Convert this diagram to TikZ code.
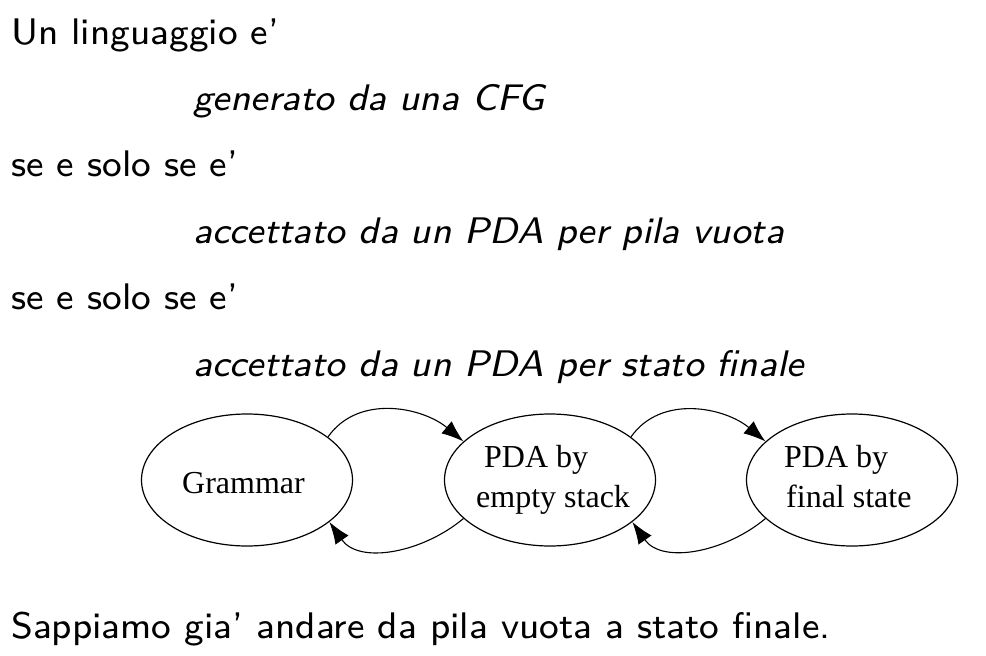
\documentclass[tikz,border=0pt]{standalone}
\usepackage{fontspec}
\newfontfamily\nodefont{Liberation Serif}
\newfontfamily\slidefont{lmsans8-regular.otf}[ItalicFont=lmsans8-oblique.otf,Ligatures=TeX]
\usetikzlibrary{shapes.geometric,arrows.meta}
\begin{document}
\begin{tikzpicture}[x=1pt,y=-1pt,
  txt/.style={anchor=base west,inner sep=0pt,font=\slidefont\fontsize{37}{40}\selectfont},
  itxt/.style={txt,font=\slidefont\itshape\fontsize{37}{40}\selectfont},
  state/.style={draw,ellipse,line width=1.2pt,minimum width=211pt,minimum height=132pt,inner sep=0pt},
  lbl/.style={anchor=base west,inner sep=0pt,font=\nodefont\fontsize{32}{40}\selectfont},
  conn/.style={line width=1.1pt,-{Latex[length=22pt,width=16pt]}}]
\useasboundingbox (0,0) rectangle (986,656);
\node[txt] (l1) at (11,44) {Un linguaggio e’};
\node[itxt] (l2) at (193,110) {generato da una CFG};
\node[txt] (l3) at (11,176) {se e solo se e’};
\node[itxt] (l4) at (193,243) {accettato da un PDA per pila vuota};
\node[txt] (l5) at (11,309) {se e solo se e’};
\node[itxt] (l6) at (193,376) {accettato da un PDA per stato finale};
\node[txt] (l7) at (11,638) {Sappiamo gia’ andare da pila vuota a stato finale.};
\node[state] (g) at (247,480) {};
\node[state] (e) at (550,480) {};
\node[state] (f) at (852,480) {};
\node[lbl] (gt) at (182,493) {Grammar};
\node[lbl] (et1) at (484,467) {PDA by};
\node[lbl] (et2) at (476,507) {empty stack};
\node[lbl] (ft1) at (784,467) {PDA by};
\node[lbl] (ft2) at (786,507) {final state};
\draw[conn] (g.28) to[out=55,in=140] (e.156);
\draw[conn] (e.204) to[out=-140,in=-55] (g.333);
\draw[conn] (e.28) to[out=55,in=140] (f.156);
\draw[conn] (f.204) to[out=-140,in=-55] (e.333);
\end{tikzpicture}
\end{document}
